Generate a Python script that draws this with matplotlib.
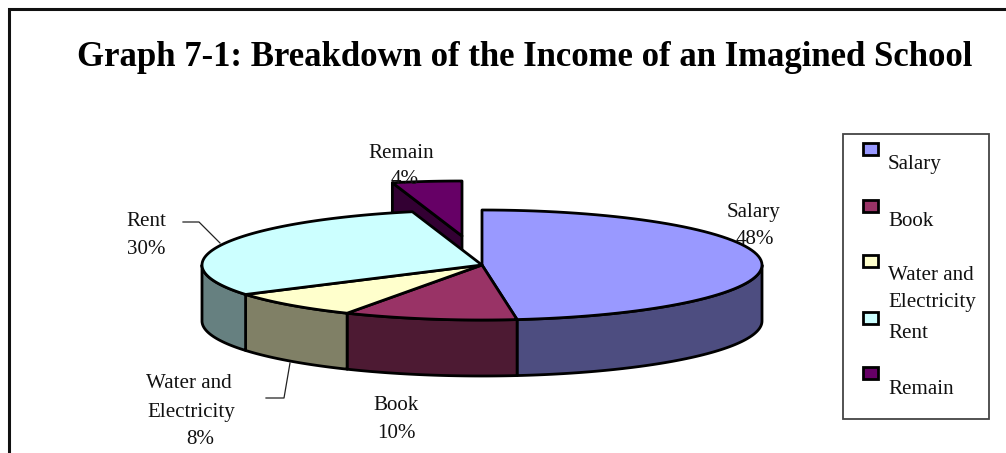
import numpy as np
import matplotlib
matplotlib.use("Agg")
import matplotlib.pyplot as plt
from matplotlib.patches import Polygon, Rectangle

plt.rcParams["font.family"] = ["Liberation Serif", "DejaVu Serif"]

TITLE = "Graph 7-1: Breakdown of the Income of an Imagined School"
categories = ["Salary", "Book", "Water and\nElectricity", "Rent", "Remain"]
shares = [48, 10, 8, 30, 4]
top_colors = ["#9999FF", "#993366", "#FFFFCC", "#CCFFFF", "#660066"]
side_colors = ["#4D4D80", "#4D1A33", "#808066", "#668080", "#330033"]

# Pie geometry in figure pixels
CX, CY, RX, RY, DEPTH = 482, 265, 280, 55, 56
EXPLODE = {4: (-20, -29)}
EDGE = 2.0

fig = plt.figure(figsize=(10.06, 4.53), dpi=100)
ax = fig.add_axes([0, 0, 1, 1])
ax.set_xlim(0, 1006)
ax.set_ylim(453, 0)
ax.axis("off")


def arc(a0, a1, dx=0, dy=0):
    t = np.radians(np.linspace(a0, a1, 80))
    return np.column_stack((CX + dx + RX * np.cos(t), CY + dy - RY * np.sin(t)))


def add_poly(points, face, z):
    ax.add_patch(Polygon(points, closed=True, facecolor=face, edgecolor="black",
                         linewidth=EDGE, joinstyle="round", zorder=z))


# Slices run clockwise from twelve o'clock
edges = 90 - 3.6 * np.cumsum([0] + shares)
spans = list(zip(edges[:-1], edges[1:]))

# The exploded slice sits behind the rest of the pie; its cut face shows below the top
for i, (dx, dy) in EXPLODE.items():
    a0, a1 = spans[i]
    apex = np.array([CX + dx, CY + dy])
    rim = arc(a0, a1, dx, dy)
    down = np.array([0, DEPTH])
    add_poly(np.vstack((rim[0], apex, apex + down, rim[0] + down)), side_colors[i], 1)
    add_poly(np.vstack((apex, rim)), top_colors[i], 1.5)

# Outer walls of the front half
for i, (a0, a1) in enumerate(spans):
    if i in EXPLODE:
        continue
    lo, hi = max(a1, -180), min(a0, 0)
    if hi > lo:
        top = arc(lo, hi)
        add_poly(np.vstack((top, top[::-1] + [0, DEPTH])), side_colors[i], 2)

# Top faces
for i, (a0, a1) in enumerate(spans):
    if i in EXPLODE:
        continue
    add_poly(np.vstack(([CX, CY], arc(a0, a1))), top_colors[i], 3)

TEXT = dict(fontsize=15.1, color="#111111", ha="center", va="center", zorder=6)

# Slice labels
label_lines = {
    "Salary": [(754, 213), (755, 240)],
    "Book": [(396, 406), (396, 434)],
    "Water": [(189, 384), (191, 412), (200, 440)],
    "Rent": [(146, 222), (146, 250)],
    "Remain": [(401, 154), (405, 180)],
}
for cat, share, pos in zip(categories, shares, label_lines.values()):
    for line, xy in zip(cat.split("\n") + [f"{share}%"], pos):
        ax.text(*xy, line, **TEXT)

# Leader lines
ax.plot([183, 199, 220], [222, 222, 243], color="#222222", lw=0.9, zorder=5)
ax.plot([266, 284, 290], [398, 398, 363], color="#222222", lw=0.9, zorder=5)

# Title
ax.text(525, 58, TITLE, fontsize=25, fontweight="bold", color="black",
        ha="center", va="center", zorder=6)

# Legend
ax.add_patch(Rectangle((843, 134), 146, 285, facecolor="white", edgecolor="#444444",
                       linewidth=1.3, zorder=4))
swatch_tops = [143, 200, 255, 312, 367]
legend_rows = [[("Salary", 164)], [("Book", 221)],
               [("Water and", 276), ("Electricity", 302)],
               [("Rent", 334)], [("Remain", 390)]]
for color, y, rows in zip(top_colors, swatch_tops, legend_rows):
    ax.add_patch(Rectangle((863, y), 15, 12, facecolor=color, edgecolor="black",
                           linewidth=2, zorder=5))
    for text, ty in rows:
        ax.text(888, ty, text, **{**TEXT, "ha": "left"})

# Chart frame, which runs off the right and bottom of the image
ax.plot([9.5, 9.5, 1010], [460, 9, 9], color="#111111", lw=2.2,
        solid_joinstyle="miter", zorder=7)

fig.savefig("out.png", dpi=100)
